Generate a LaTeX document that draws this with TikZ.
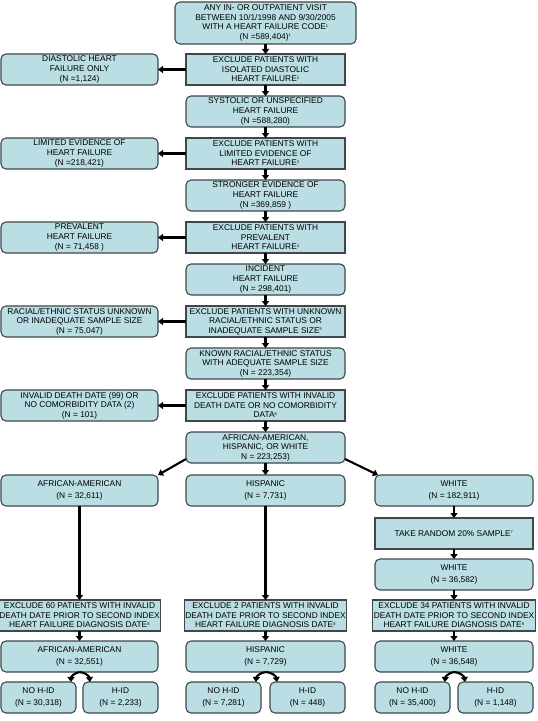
\documentclass[tikz,border=0pt]{standalone}
\usepackage{fontspec}
\setmainfont{Liberation Sans}
\usetikzlibrary{arrows.meta,positioning}
\definecolor{boxfill}{RGB}{186,222,227}
\definecolor{boxline}{RGB}{62,72,76}
\newcommand{\fnote}[1]{\textsuperscript{\fontsize{4}{4}\selectfont #1}}
\tikzset{
  exc/.style={draw=boxline,fill=boxfill,line width=1.1bp,align=center,inner xsep=1bp,
    inner ysep=0bp,outer sep=0bp,minimum height=31bp,font=\fontsize{8.4}{9.6}\selectfont},
  grp/.style={exc,rounded corners=5bp},
  mid/.style={minimum width=159bp},
  side/.style={minimum width=157bp},
  rgt/.style={minimum width=158bp},
  half/.style={grp,minimum width=75bp},
  arr/.style={line width=2.1bp,-{Triangle[length=5bp,width=7bp]}},
}

\begin{document}
\begin{tikzpicture}[x=1bp,y=1bp,node distance=11bp]
  \useasboundingbox (0,0) rectangle (538,-721);
  % main column
  \node[grp,minimum width=181bp,minimum height=42bp] (visit) at (265.5,-23)
    {ANY IN- OR OUTPATIENT VISIT\\ BETWEEN 10/1/1998 AND 9/30/2005\\
     WITH A HEART FAILURE CODE\fnote{1}\\ (N =589,404)\fnote{1}};
  \node[exc,mid] (exdia) [below=10bp of visit]
    {EXCLUDE PATIENTS WITH\\ ISOLATED DIASTOLIC\\ HEART FAILURE\fnote{2}};
  \node[grp,mid] (sys) [below=of exdia] {SYSTOLIC OR UNSPECIFIED\\ HEART FAILURE\\ (N =588,280)};
  \node[exc,mid] (exlim) [below=of sys] {EXCLUDE PATIENTS WITH\\ LIMITED EVIDENCE OF\\ HEART FAILURE\fnote{3}};
  \node[grp,mid] (strong) [below=of exlim] {STRONGER EVIDENCE OF\\ HEART FAILURE\\ (N =369,859 )};
  \node[exc,mid] (exprev) [below=of strong] {EXCLUDE PATIENTS WITH\\ PREVALENT\\ HEART FAILURE\fnote{4}};
  \node[grp,mid] (inc) [below=of exprev] {INCIDENT\\ HEART FAILURE\\ (N = 298,401)};
  \node[exc,mid] (exrace) [below=of inc]
    {EXCLUDE PATIENTS WITH UNKNOWN\\ RACIAL/ETHNIC STATUS OR\\ INADEQUATE SAMPLE SIZE\fnote{5}};
  \node[grp,mid] (known) [below=of exrace]
    {KNOWN RACIAL/ETHNIC STATUS\\ WITH ADEQUATE SAMPLE SIZE\\ (N = 223,354)};
  \node[exc,mid] (exinv) [below=of known]
    {EXCLUDE PATIENTS WITH INVALID\\ DEATH DATE OR NO COMORBIDITY\\ DATA\fnote{6}};
  \node[grp,mid] (aahw) [below=of exinv] {AFRICAN-AMERICAN,\\ HISPANIC, OR WHITE\\ N = 223,253)};
  % excluded groups on the left
  \node[grp,side] (dia) [left=28bp of exdia] {DIASTOLIC HEART\\ FAILURE ONLY\\ (N =1,124)};
  \node[grp,side] (lim) [left=28bp of exlim] {LIMITED EVIDENCE OF\\ HEART FAILURE\\ (N =218,421)};
  \node[grp,side] (prev) [left=28bp of exprev] {PREVALENT\\ HEART FAILURE\\ (N = 71,458 )};
  \node[grp,side] (race) [left=28bp of exrace]
    {RACIAL/ETHNIC STATUS UNKNOWN\\ OR INADEQUATE SAMPLE SIZE\\ (N = 75,047)};
  \node[grp,side] (inv) [left=28bp of exinv]
    {INVALID DEATH DATE (99) OR\\ NO COMORBIDITY DATA (2)\\ (N = 101)};
  % three groups
  \node[grp,mid] (hisp) [below=12bp of aahw] {HISPANIC\\[2bp] (N = 7,731)};
  \node[grp,side] (aa) [left=28bp of hisp] {AFRICAN-AMERICAN\\[2bp] (N = 32,611)};
  \node[grp,rgt] (white) [right=30bp of hisp] {WHITE\\[2bp] (N = 182,911)};
  \node[exc,rgt] (rand) [below=12bp of white] {TAKE RANDOM 20\% SAMPLE\fnote{7}};
  \node[grp,rgt] (whitesub) [below=10bp of rand] {WHITE\\[2bp] (N = 36,582)};
  \node[exc,rgt] (exwhite) [below=10bp of whitesub]
    {EXCLUDE 34 PATIENTS WITH INVALID\\ DEATH DATE PRIOR TO SECOND INDEX\\ HEART FAILURE DIAGNOSIS DATE\fnote{8}};
  \node[exc,mid] (exhisp) at (hisp |- exwhite)
    {EXCLUDE 2 PATIENTS WITH INVALID\\ DEATH DATE PRIOR TO SECOND INDEX\\ HEART FAILURE DIAGNOSIS DATE\fnote{8}};
  \node[exc,side] (exaa) at (aa |- exwhite)
    {EXCLUDE 60 PATIENTS WITH INVALID\\ DEATH DATE PRIOR TO SECOND INDEX\\ HEART FAILURE DIAGNOSIS DATE\fnote{8}};
  \node[grp,side] (aafin) [below=10bp of exaa] {AFRICAN-AMERICAN\\[2bp] (N = 32,551)};
  \node[grp,mid] (hispfin) [below=10bp of exhisp] {HISPANIC\\[2bp] (N = 7,729)};
  \node[grp,rgt] (whitefin) [below=10bp of exwhite] {WHITE\\[2bp] (N = 36,548)};
  % H-ID split
  \node[half,anchor=north west] (aano) at ([yshift=-10bp]aafin.south west) {NO H-ID\\[2bp] (N = 30,318)};
  \node[half,anchor=north east] (aahid) at ([yshift=-10bp]aafin.south east) {H-ID\\[2bp] (N = 2,233)};
  \node[half,anchor=north west] (hispno) at ([yshift=-10bp]hispfin.south west) {NO H-ID\\[2bp] (N = 7,281)};
  \node[half,anchor=north east] (hisphid) at ([yshift=-10bp]hispfin.south east) {H-ID\\[2bp] (N = 448)};
  \node[half,anchor=north west] (whiteno) at ([yshift=-10bp]whitefin.south west) {NO H-ID\\[2bp] (N = 35,400)};
  \node[half,anchor=north east] (whitehid) at ([yshift=-10bp]whitefin.south east) {H-ID\\[2bp] (N = 1,148)};
  % arrows
  \foreach \a/\b in {visit/exdia,exdia/sys,sys/exlim,exlim/strong,strong/exprev,exprev/inc,
      inc/exrace,exrace/known,known/exinv,exinv/aahw,aahw/hisp,white/rand,rand/whitesub,
      whitesub/exwhite,exwhite/whitefin,exhisp/hispfin,exaa/aafin}
    \draw[arr] (\a) -- (\b);
  \foreach \a/\b in {exdia/dia,exlim/lim,exprev/prev,exrace/race,exinv/inv}
    \draw[arr] (\a.west) -- (\b.east);
  \draw[arr] ([yshift=4bp]aahw.south west) -- (aa.north east);
  \draw[arr] ([yshift=4bp]aahw.south east) -- ([xshift=3bp]white.north west);
  \draw[arr] (aa) -- (aa |- exaa.north);
  \draw[arr] (hisp) -- (exhisp);
  \foreach \f/\n/\h in {aafin/aano/aahid,hispfin/hispno/hisphid,whitefin/whiteno/whitehid}{
    \draw[arr] (\f.south) to[bend right=40] ([xshift=-5bp]\n.north east);
    \draw[arr] (\f.south) to[bend left=40] ([xshift=7bp]\h.north west);
  }
\end{tikzpicture}
\end{document}
